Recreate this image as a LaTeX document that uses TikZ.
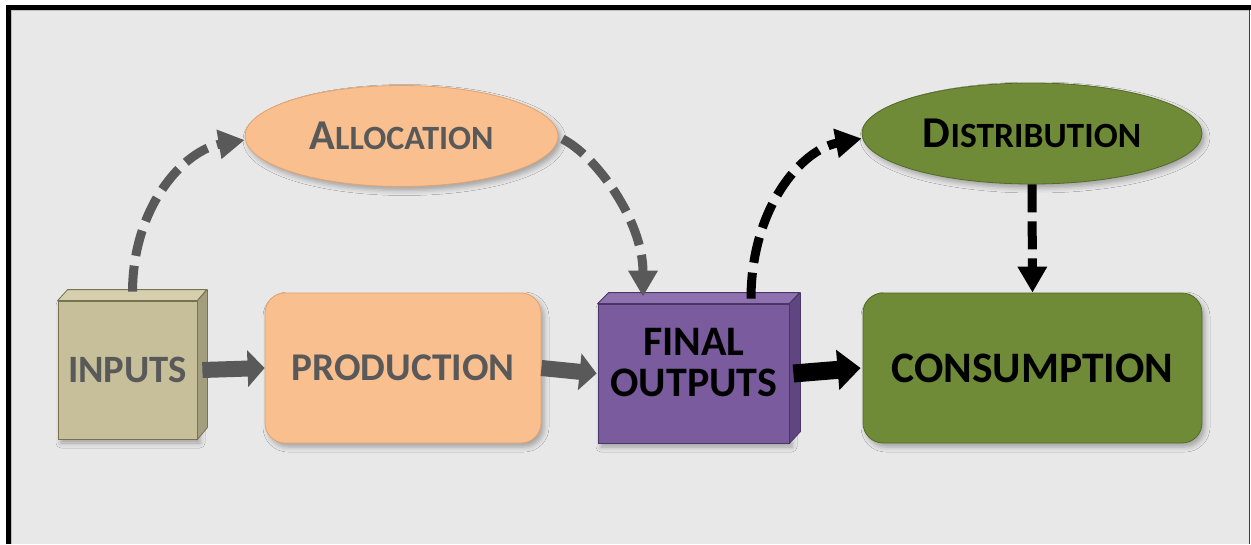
\documentclass[tikz,border=0pt]{standalone}
\usepackage{fontspec}
\setmainfont{Carlito}
\usetikzlibrary{arrows.meta,shapes.geometric,shadows.blur,calc}

\definecolor{panel}{HTML}{E8E8E8}
\definecolor{ink}{HTML}{595959}
\definecolor{peach}{HTML}{F9BF8F}
\definecolor{peachline}{HTML}{E3A36E}
\definecolor{tan}{HTML}{C6BF99}
\definecolor{tantop}{HTML}{D5CFAE}
\definecolor{tanside}{HTML}{A39E7E}
\definecolor{tanline}{HTML}{77724F}
\definecolor{plum}{HTML}{7A5C9E}
\definecolor{plumtop}{HTML}{8E72AF}
\definecolor{plumside}{HTML}{5F4681}
\definecolor{plumline}{HTML}{4A3566}
\definecolor{olive}{HTML}{6F8B37}
\definecolor{oliveline}{HTML}{546A27}

\newcommand{\fsz}[1]{\fontsize{#1}{#1}\selectfont}

\begin{document}
\begin{tikzpicture}[x=1pt,y=-1pt,
  softshadow/.style={blur shadow={shadow xshift=3pt,shadow yshift=-4pt,
      shadow opacity=30,shadow blur radius=5pt}},
  cubefront/.style={rectangle,inner sep=0pt,line width=0.8pt,softshadow},
  roundbox/.style={rectangle,rounded corners=20pt,inner sep=0pt,
      line width=0.8pt,softshadow,minimum height=150pt},
  oval/.style={ellipse,inner sep=0pt,line width=0.8pt,softshadow,
      minimum height=101pt},
  graytext/.style={text=ink,font=\bfseries},
  darktext/.style={text=black,font=\bfseries},
  grayflow/.style={draw=ink,line width=16pt,
      -{Triangle[length=17pt,width=36pt]}},
  darkflow/.style={draw=black,line width=18pt,
      -{Triangle[length=23pt,width=39pt]}},
  dashflow/.style={line width=9pt,dash pattern=on 26pt off 10pt,
      -{Triangle[length=26pt,width=28pt]}},
]
\useasboundingbox (0,0) rectangle (1251,544);

% page and frame
\fill[white] (0,0) rectangle (1251,544);
\fill[panel] (8,7) rectangle (1249.5,544);
\draw[black!25,line width=1pt] (11.5,544) -- (11.5,10.5) -- (1248.5,10.5);
\draw[black,line width=5pt] (8.5,544) -- (8.5,7.5) -- (1251,7.5);
\draw[black!75,line width=1.2pt] (1249.8,10) -- (1249.8,544);

% INPUTS cube
\node[cubefront,fill=tan,draw=tanline,minimum width=139pt,minimum height=138pt,
      graytext,font=\bfseries\fsz{38.7}] (inputs) at (127.5,370) {INPUTS};
\filldraw[fill=tantop,draw=tanline,line width=0.8pt,line join=round]
  (inputs.north west) -- ++(10,-11) -- ++(139,0) -- (inputs.north east) -- cycle;
\filldraw[fill=tanside,draw=tanline,line width=0.8pt,line join=round]
  (inputs.north east) -- ++(10,-11) -- ++(0,138) -- (inputs.south east) -- cycle;

% PRODUCTION
\node[roundbox,fill=peach,draw=peachline,minimum width=276pt,
      graytext,font=\bfseries\fsz{39.3}] (production) at (403,368) {PRODUCTION};

% FINAL OUTPUTS cube
\node[cubefront,fill=plum,draw=plumline,minimum width=191pt,minimum height=139pt]
  (final) at (693.5,373.5) {};
\filldraw[fill=plumtop,draw=plumline,line width=0.8pt,line join=round]
  (final.north west) -- ++(11,-11) -- ++(191,0) -- (final.north east) -- cycle;
\filldraw[fill=plumside,draw=plumline,line width=0.8pt,line join=round]
  (final.north east) -- ++(11,-11) -- ++(0,139) -- (final.south east) -- cycle;
\node[darktext,align=center,font=\bfseries\fontsize{42}{41}\selectfont]
  (finaltext) at (694,363) {FINAL\\OUTPUTS};

% CONSUMPTION
\node[roundbox,fill=olive,draw=oliveline,minimum width=339pt,
      darktext,font=\bfseries\fsz{43.5}] (consumption) at (1032.5,368) {CONSUMPTION};

% ALLOCATION and DISTRIBUTION
\node[oval,fill=peach,draw=peachline,minimum width=313pt,graytext]
  (alloc) at (401.5,136) {\fsz{42.5}A\fsz{34}LLOCATION};
\node[oval,fill=olive,draw=oliveline,minimum width=340pt,darktext]
  (distrib) at (1032,133.5) {\fsz{44}D\fsz{35.5}ISTRIBUTION};

% main flow
\draw[grayflow] ([xshift=5pt]inputs.east) -- (production.west);
\draw[grayflow] (production.east) -- ([xshift=-1pt]final.west);
\draw[darkflow] ([xshift=4pt]final.east) -- ([xshift=-2pt]consumption.west);

% dashed side flows
\draw[dashflow,ink] ($(inputs.north)+(5,-9)$)
  .. controls (133,205) and (185,150) .. ($(alloc.west)+(0,4)$);
\draw[dashflow,ink] ($(alloc.east)+(4,3)$)
  .. controls (595,155) and (643,220) .. ($(final.north)+(-50.5,-7)$);
\draw[dashflow,black] ($(final.north)+(57.5,-5)$)
  .. controls (751,210) and (800,150) .. ($(distrib.west)+(0,5)$);
\draw[dashflow,black,dash pattern=on 28pt off 9pt]
  (distrib.south) -- (consumption.north);
\end{tikzpicture}
\end{document}
